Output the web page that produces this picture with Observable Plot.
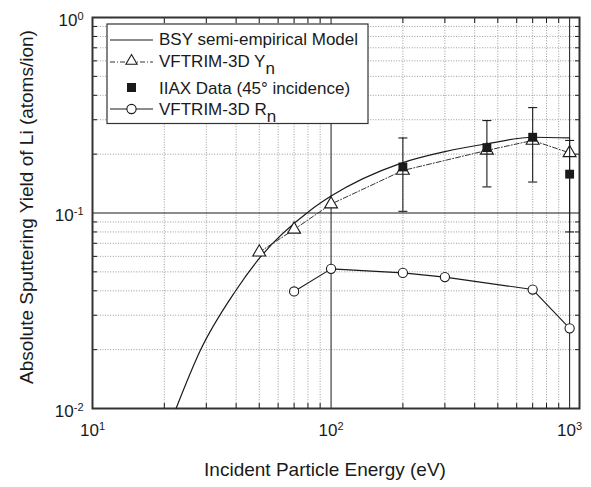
<!DOCTYPE html>
<html><head><meta charset="utf-8">
<script src="https://cdn.jsdelivr.net/npm/d3@7"></script>
<script src="https://cdn.jsdelivr.net/npm/@observablehq/plot@0.6"></script>
<style>
body{margin:0;background:#fff;}
svg text{font-family:"Liberation Sans",Arial,Helvetica,sans-serif;}
</style></head><body><div id="chart"></div>
<script>
// ---- data ----
const bsyEnergy = [22.4, 28.3, 39.7, 50.5, 81.7, 100, 194.5, 300, 450, 700, 1000];
const bsyYield  = [0.0100, 0.0198, 0.0398, 0.0594, 0.103, 0.122, 0.179, 0.206, 0.226, 0.244, 0.242];

const ynEnergy = [50, 70, 100, 200, 450, 700, 1000];
const ynYield  = [0.063, 0.0824, 0.111, 0.165, 0.209, 0.235, 0.203];

const iiaxEnergy = [200, 450, 700, 1000];
const iiaxYield  = [0.172, 0.216, 0.244, 0.158];
const iiaxLow    = [0.102, 0.136, 0.144, 0.080];
const iiaxHigh   = [0.242, 0.297, 0.346, 0.235];

const rnEnergy = [70, 100, 200, 300, 700, 1000];
const rnYield  = [0.0397, 0.0518, 0.0494, 0.047, 0.0406, 0.0257];

const xMajorTicks = [10, 100, 1000];
const xTickLabels = ["10^1", "10^2", "10^3"];
const yMajorTicks = [0.01, 0.1, 1];
const yTickLabels = ["10^-2", "10^-1", "10^0"];
const xMinorTicks = [20, 30, 40, 50, 60, 70, 80, 90, 200, 300, 400, 500, 600, 700, 800, 900];
const yMinorTicks = [0.02, 0.03, 0.04, 0.05, 0.06, 0.07, 0.08, 0.09, 0.2, 0.3, 0.4, 0.5, 0.6, 0.7, 0.8, 0.9];
const xSolidLines = [100, 1000];
const ySolidLines = [0.1];

const xTitle = "Incident Particle Energy (eV)";
const yTitle = "Absolute Sputtering Yield of Li (atoms/ion)";

const capSymbol = {draw(ctx) { ctx.moveTo(-4.5, 0); ctx.lineTo(4.5, 0); }};
const dark = "#1a1a1a";
const gridStyle = {stroke: "#9a9a9a", strokeDasharray: "1,1.6", strokeWidth: 1};

const plot = Plot.plot({
  width: 591, height: 487,
  marginLeft: 92, marginRight: 12, marginTop: 17, marginBottom: 79,
  style: {fontFamily: '"Liberation Sans", Arial, sans-serif', fontSize: "17px", color: dark, background: "#fff"},
  x: {type: "log", domain: [10, 1100], label: null},
  y: {type: "log", domain: [0.01, 1], label: null},
  marks: [
    Plot.ruleX(xMinorTicks, gridStyle),
    Plot.ruleY(yMinorTicks, gridStyle),
    Plot.ruleX(xSolidLines, {stroke: dark, strokeWidth: 1}),
    Plot.ruleY(ySolidLines, {stroke: dark, strokeWidth: 1}),
    // inward minor ticks on all sides
    Plot.axisX({anchor: "bottom", ticks: xMinorTicks, tickSize: 5, dy: -5, tickFormat: () => "", stroke: dark}),
    Plot.axisX({anchor: "top", ticks: xMinorTicks, tickSize: 5, dy: 5, tickFormat: () => "", stroke: dark}),
    Plot.axisY({anchor: "left", ticks: yMinorTicks, tickSize: 5, dx: 5, tickFormat: () => "", stroke: dark}),
    Plot.axisY({anchor: "right", ticks: yMinorTicks, tickSize: 5, dx: -5, tickFormat: () => "", stroke: dark}),
    // labels
    Plot.axisX({anchor: "bottom", ticks: xMajorTicks, tickSize: 0, tickPadding: 15, fontSize: 17,
      tickFormat: d => xTickLabels[xMajorTicks.indexOf(d)]}),
    Plot.axisY({anchor: "left", ticks: yMajorTicks, tickSize: 0, tickPadding: 9, fontSize: 17, dy: 3,
      tickFormat: d => yTickLabels[yMajorTicks.indexOf(d)]}),
    Plot.frame({stroke: "#333", strokeWidth: 2}),
    // BSY model
    Plot.line({length: bsyEnergy.length}, {x: bsyEnergy, y: bsyYield, curve: "monotone-x", stroke: dark, strokeWidth: 1.2}),
    // VFTRIM-3D Yn
    Plot.line({length: ynEnergy.length}, {x: ynEnergy, y: ynYield, stroke: "#333", strokeWidth: 1, strokeDasharray: "5,2,1,2"}),
    Plot.dot({length: ynEnergy.length}, {x: ynEnergy, y: ynYield, symbol: "triangle", r: 4.8, fill: "#fff", stroke: dark, strokeWidth: 1.1}),
    // IIAX data
    Plot.ruleX({length: iiaxEnergy.length}, {x: iiaxEnergy, y1: iiaxLow, y2: iiaxHigh, stroke: dark, strokeWidth: 1.1}),
    Plot.dot({length: iiaxEnergy.length}, {x: iiaxEnergy, y: iiaxHigh, symbol: capSymbol, stroke: dark, strokeWidth: 1.1}),
    Plot.dot({length: iiaxEnergy.length}, {x: iiaxEnergy, y: iiaxLow, symbol: capSymbol, stroke: dark, strokeWidth: 1.1}),
    Plot.dot({length: iiaxEnergy.length}, {x: iiaxEnergy, y: iiaxYield, symbol: "square", r: 5, fill: dark, stroke: "none"}),
    // VFTRIM-3D Rn
    Plot.line({length: rnEnergy.length}, {x: rnEnergy, y: rnYield, stroke: dark, strokeWidth: 1.1}),
    Plot.dot({length: rnEnergy.length}, {x: rnEnergy, y: rnYield, symbol: "circle", r: 4.6, fill: "#fff", stroke: dark, strokeWidth: 1.1}),
    // axis titles
    Plot.text([xTitle], {frameAnchor: "bottom", dy: 67, dx: -11, fontSize: 19, fill: dark}),
    Plot.text([yTitle], {frameAnchor: "left", textAnchor: "middle", lineAnchor: "middle", rotate: -90, dx: -66, dy: -6, fontSize: 19, fill: dark})
  ]
});

// superscript exponents on tick labels
d3.select(plot).selectAll('g[aria-label="x-axis tick label"] text, g[aria-label="y-axis tick label"] text').each(function() {
  const t = d3.select(this);
  const s = t.text();
  if (!s.includes("^")) return;
  const [base, exp] = s.split("^");
  t.text(base);
  t.append("tspan").attr("font-size", 11).attr("dy", "-0.55em").text(exp);
});

// legend
const svg = d3.select(plot);
const lg = svg.append("g").attr("font-size", 17).attr("fill", dark).attr("text-anchor", "start");
lg.append("rect").attr("x", 107).attr("y", 24).attr("width", 261).attr("height", 99.5)
  .attr("fill", "#fff").attr("stroke", "#333").attr("stroke-width", 1.2);
const sx0 = 110, sx1 = 153, sc = 131.5, tx = 159;
// row 1
lg.append("line").attr("x1", sx0).attr("x2", sx1).attr("y1", 40).attr("y2", 40).attr("stroke", dark).attr("stroke-width", 1.2);
lg.append("text").attr("x", tx).attr("y", 45).text("BSY semi-empirical Model");
// row 2
lg.append("line").attr("x1", sx0).attr("x2", sx1).attr("y1", 62).attr("y2", 62).attr("stroke", "#333").attr("stroke-dasharray", "5,2,1,2");
lg.append("path").attr("d", d3.symbol(d3.symbolTriangle2, 90)()).attr("transform", `translate(${sc},61)`).attr("fill", "#fff").attr("stroke", dark).attr("stroke-width", 1.1);
const r2 = lg.append("text").attr("x", tx).attr("y", 67).text("VFTRIM-3D Y");
r2.append("tspan").attr("dy", 7).text("n");
// row 3
lg.append("rect").attr("x", sc - 4.5).attr("y", 83).attr("width", 9).attr("height", 9).attr("fill", dark);
lg.append("text").attr("x", tx).attr("y", 94).text("IIAX Data (45\u00B0 incidence)");
// row 4
lg.append("line").attr("x1", sx0).attr("x2", sx1).attr("y1", 109).attr("y2", 109).attr("stroke", dark).attr("stroke-width", 1.1);
lg.append("circle").attr("cx", sc).attr("cy", 109).attr("r", 4.6).attr("fill", "#fff").attr("stroke", dark).attr("stroke-width", 1.1);
const r4 = lg.append("text").attr("x", tx).attr("y", 115).text("VFTRIM-3D R");
r4.append("tspan").attr("dy", 7).text("n");

document.getElementById("chart").appendChild(plot);
</script>
</body></html>
